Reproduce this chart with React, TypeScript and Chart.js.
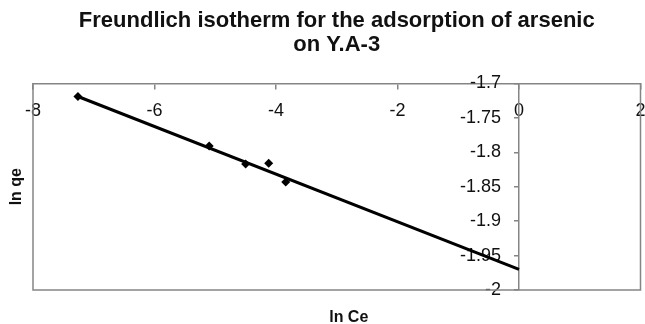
import React, { useEffect, useRef } from "react";
import { Chart, registerables } from "chart.js";

Chart.register(...registerables);

const titleLines = ["Freundlich isotherm for the adsorption of arsenic", "on Y.A-3"];
const xTitle = "ln Ce";
const yTitle = "ln qe";

// measured points (ln Ce, ln qe)
const lnCe = [-7.26, -5.1, -4.5, -4.12, -3.84];
const lnQe = [-1.719, -1.791, -1.817, -1.816, -1.843];

// linear trendline endpoints (forecast forward to 0)
const trendX = [-7.26, 0];
const trendY = [-1.719, -1.970];

const xMin = -8, xMax = 2, xStep = 2;
const yMin = -2, yMax = -1.7, yStep = 0.05;

const FONT = "'Liberation Sans', Arial, sans-serif";
const AXIS_GRAY = "#858585";

const framePlugin = {
  id: "frame",
  beforeDatasetsDraw(chart: any) {
    const { ctx, chartArea } = chart;
    ctx.save();
    ctx.strokeStyle = AXIS_GRAY;
    ctx.lineWidth = 1.5;
    ctx.beginPath();
    ctx.moveTo(chartArea.left, chartArea.top);
    ctx.lineTo(chartArea.left, chartArea.bottom);
    ctx.lineTo(chartArea.right, chartArea.bottom);
    ctx.lineTo(chartArea.right, chartArea.top);
    ctx.stroke();
    ctx.restore();
  },
};

const zeroPad = (scale: any) => {
  scale.paddingLeft = 0;
  scale.paddingRight = 0;
  scale.paddingTop = 0;
  scale.paddingBottom = 0;
};

export default function App() {
  const ref = useRef<HTMLCanvasElement | null>(null);
  useEffect(() => {
    if (!ref.current) return;
    const chart = new Chart(ref.current, {
      type: "scatter",
      data: {
        datasets: [
          {
            label: "data",
            data: lnCe.map((x, i) => ({ x, y: lnQe[i] })),
            pointStyle: "rectRot",
            pointRadius: 4.5,
            backgroundColor: "#000",
            borderColor: "#000",
            borderWidth: 0,
            xAxisID: "x",
            yAxisID: "y",
          },
          {
            label: "trend",
            data: trendX.map((x, i) => ({ x, y: trendY[i] })),
            showLine: true,
            pointRadius: 0,
            borderColor: "#000",
            borderWidth: 3,
            xAxisID: "x",
            yAxisID: "y",
          },
        ],
      },
      plugins: [framePlugin],
      options: {
        responsive: false,
        animation: false,
        layout: { padding: { left: 0, right: 4, top: 0, bottom: 0 } },
        plugins: {
          legend: { display: false },
          tooltip: { enabled: false },
          title: {
            display: true,
            text: titleLines,
            fullSize: false,
            color: "#111",
            font: { family: FONT, size: 22, weight: "bold", lineHeight: 1.1 },
            padding: { top: 9, bottom: 26 },
          },
        },
        scales: {
          x: {
            type: "linear",
            position: { y: yMax },
            min: xMin,
            max: xMax,
            afterFit: zeroPad,
            ticks: { stepSize: xStep, color: "#111", font: { family: FONT, size: 18 }, padding: 12 },
            grid: { drawOnChartArea: false, drawTicks: true, tickLength: 5, color: AXIS_GRAY, lineWidth: 1.5 },
            border: { display: true, color: AXIS_GRAY, width: 1.5 },
          },
          y: {
            type: "linear",
            position: { x: 0 },
            min: yMin,
            max: yMax,
            afterFit: zeroPad,
            ticks: {
              stepSize: yStep,
              color: "#111",
              font: { family: FONT, size: 18 },
              padding: 12,
              callback: (v: any) => String(Number(Number(v).toFixed(2))) + "\u2003",
            },
            grid: { drawOnChartArea: false, drawTicks: true, tickLength: 4, color: AXIS_GRAY, lineWidth: 1.5 },
            border: { display: true, color: AXIS_GRAY, width: 1.5 },
          },
          x2: {
            type: "linear",
            position: "bottom",
            display: true,
            grid: { display: false, drawTicks: false, tickLength: 0 },
            border: { display: false },
            ticks: { display: false },
            title: {
              display: true,
              text: "\u2002\u2002\u2002" + xTitle,
              color: "#111",
              font: { family: FONT, size: 16, weight: "bold", lineHeight: 1 },
              padding: { top: 20, bottom: -2 },
            },
          },
          y2: {
            type: "linear",
            position: "left",
            display: true,
            grid: { display: false, drawTicks: false, tickLength: 0 },
            border: { display: false },
            ticks: { display: false },
            title: {
              display: true,
              text: yTitle,
              color: "#111",
              font: { family: FONT, size: 16, weight: "bold", lineHeight: 1 },
              padding: { top: 9, bottom: 8 },
            },
          },
        },
      },
    } as any);
    return () => chart.destroy();
  }, []);
  return (
    <div style={{ position: "absolute", left: 0, top: 0, width: 645, height: 324, background: "#fff" }}>
      <canvas ref={ref} width={645} height={324} />
    </div>
  );
}
